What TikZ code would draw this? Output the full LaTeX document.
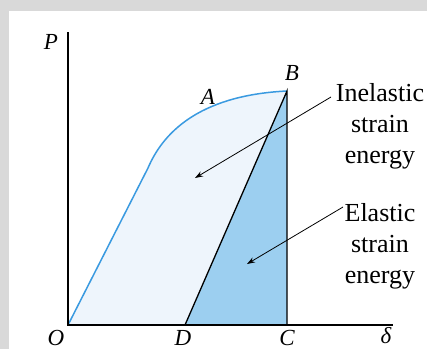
\documentclass[tikz,border=0pt]{standalone}
\usepackage{fontspec}
\setmainfont{Liberation Serif}
\usetikzlibrary{arrows.meta}
\definecolor{bggray}{HTML}{D9D9D9}
\definecolor{lightfill}{HTML}{EEF5FC}
\definecolor{darkfill}{HTML}{9CCFF0}
\definecolor{curveblue}{HTML}{3A9AE0}
\begin{document}
\begin{tikzpicture}[x=1pt,y=-1pt,
  lbl/.style={font=\fontsize{23}{24}\selectfont\itshape, inner sep=0pt},
  txt/.style={font=\fontsize{26}{31}\selectfont, align=center, inner sep=0pt, anchor=north},
  axis/.style={line width=1.5pt, black},
  leader/.style={line width=0.8pt, -{Stealth[length=8pt,width=5.5pt]}}]
\useasboundingbox (0,0) rectangle (427,349);
\fill[bggray] (0,0) rectangle (427,349);
\fill[white] (9,11) rectangle (427,349);
% key points
\coordinate (O) at (68,325);
\coordinate (D) at (185,325);
\coordinate (C) at (287,325);
\coordinate (B) at (287,91);
\coordinate (K) at (148,168);
\coordinate (Ytop) at (68,32);
\coordinate (Xend) at (393,325);
% fills
\fill[lightfill] (O) -- (K) .. controls (165,128) and (205,95) .. (B) -- (D) -- cycle;
\fill[darkfill] (D) -- (B) -- (C) -- cycle;
% curve
\draw[curveblue, line width=1.5pt] (O) -- (K) .. controls (165,128) and (205,95) .. (B);
% lines
\draw[line width=1.3pt] (D) -- (B) -- (C);
\draw[axis] (Ytop) -- (O) -- (Xend);
% labels
\node[lbl] (lP) at (51,42) {P};
\node[lbl] (lA) at (208,97) {A};
\node[lbl] (lB) at (292,73) {B};
\node[lbl] (lO) at (56,338) {O};
\node[lbl] (lD) at (183,338) {D};
\node[lbl] (lC) at (287,338) {C};
\node[lbl] (ld) at (386,336) {δ};
% texts
\node[txt] (inel) at (380,83) {Inelastic\\strain\\energy};
\node[txt] (elas) at (380,203) {Elastic\\strain\\energy};
\coordinate (a1s) at (331,97);
\coordinate (a1e) at (195,178);
\coordinate (a2s) at (343,207);
\coordinate (a2e) at (247,264);
\draw[leader] (a1s) -- (a1e);
\draw[leader] (a2s) -- (a2e);
\end{tikzpicture}
\end{document}
